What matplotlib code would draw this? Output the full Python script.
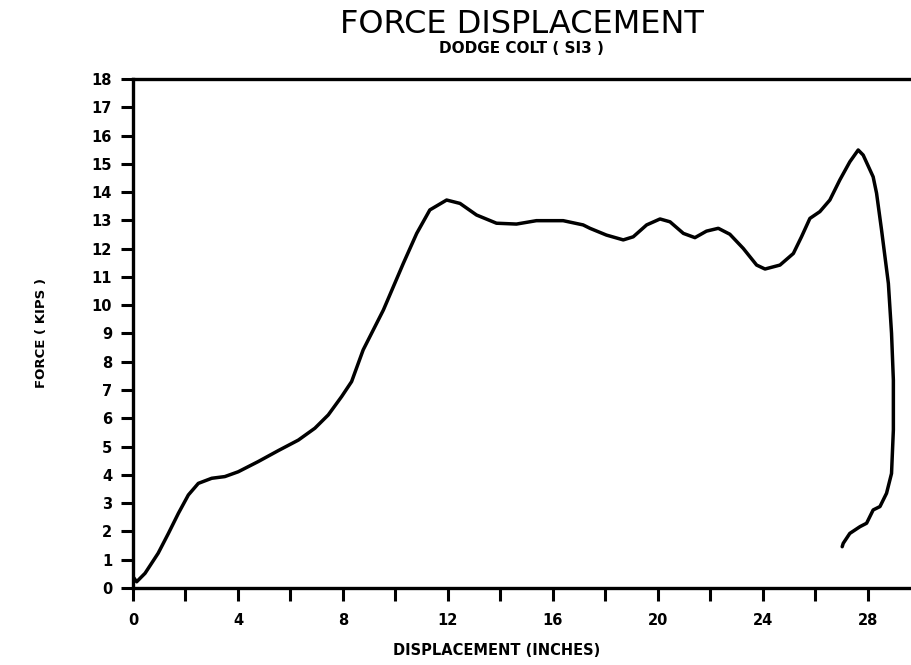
import matplotlib.pyplot as plt
from matplotlib.ticker import MultipleLocator

# Force-displacement curve
disp = [0.0, 0.14, 0.46, 0.96, 1.35, 1.73, 2.11, 2.49, 3.0, 3.50, 4.01, 4.77,
        5.54, 6.30, 6.93, 7.44, 7.95, 8.33, 8.77, 9.54, 10.30, 10.81, 11.31,
        11.95, 12.46, 13.09, 13.85, 14.61, 15.37, 16.39, 17.15, 17.41, 18.04,
        18.68, 19.06, 19.57, 20.08, 20.46, 20.97, 21.41, 21.85, 22.30, 22.74,
        23.25, 23.76, 24.08, 24.65, 25.16, 25.47, 25.79, 26.17, 26.55, 26.93,
        27.31, 27.63, 27.82, 28.20, 28.33, 28.52, 28.78, 28.90, 28.97, 28.97,
        28.97, 28.90, 28.71, 28.46, 28.20, 27.95, 27.70, 27.31, 27.06, 27.02]
force = [0.4, 0.22, 0.52, 1.23, 1.93, 2.64, 3.29, 3.70, 3.88, 3.94, 4.11, 4.47,
         4.86, 5.23, 5.65, 6.12, 6.77, 7.30, 8.42, 9.83, 11.48, 12.54, 13.37,
         13.72, 13.60, 13.19, 12.90, 12.87, 12.99, 12.99, 12.84, 12.72, 12.48,
         12.31, 12.42, 12.84, 13.05, 12.95, 12.54, 12.39, 12.62, 12.72, 12.51,
         12.01, 11.42, 11.28, 11.42, 11.83, 12.42, 13.07, 13.31, 13.72, 14.43,
         15.07, 15.49, 15.31, 14.54, 13.96, 12.66, 10.77, 9.01, 7.35, 6.76,
         5.59, 4.05, 3.35, 2.88, 2.76, 2.29, 2.17, 1.93, 1.58, 1.46]

title = "FORCE DISPLACEMENT"
subtitle = "DODGE COLT ( SI3 )"
xlabel = "DISPLACEMENT (INCHES)"
ylabel = "FORCE ( KIPS )"

fig = plt.figure(figsize=(9.12, 6.65), dpi=100)
ax = fig.add_axes([0.1458, 0.1158, 0.8542, 0.7654])

ax.plot(disp, force, color="black", lw=2.5, solid_capstyle="round",
        solid_joinstyle="round")

ax.set_xlim(0, 29.68)
ax.set_ylim(0, 18)
ax.xaxis.set_major_locator(MultipleLocator(4))
ax.xaxis.set_minor_locator(MultipleLocator(2))
ax.yaxis.set_major_locator(MultipleLocator(1))

ax.spines["right"].set_visible(False)
for s in ["left", "bottom", "top"]:
    ax.spines[s].set_linewidth(2.4)

ax.tick_params(axis="both", which="both", direction="out", width=2.2, length=9,
               labelsize=10.5)
ax.tick_params(axis="x", pad=9)
ax.tick_params(axis="y", pad=6)
for lbl in ax.get_xticklabels() + ax.get_yticklabels():
    lbl.set_fontweight("heavy")

fig.text(0.572, 0.950, title, ha="center", va="baseline", fontsize=23,
         fontweight="normal")
fig.text(0.572, 0.920, subtitle, ha="center", va="baseline", fontsize=11,
         fontweight="heavy")
fig.text(0.545, 0.01, xlabel, ha="center", va="bottom", fontsize=10.5,
         fontweight="heavy")
fig.text(0.045, 0.5, ylabel, ha="center", va="center", rotation=90,
         fontsize=9.5, fontweight="heavy")

fig.savefig("out.png", dpi=100)
